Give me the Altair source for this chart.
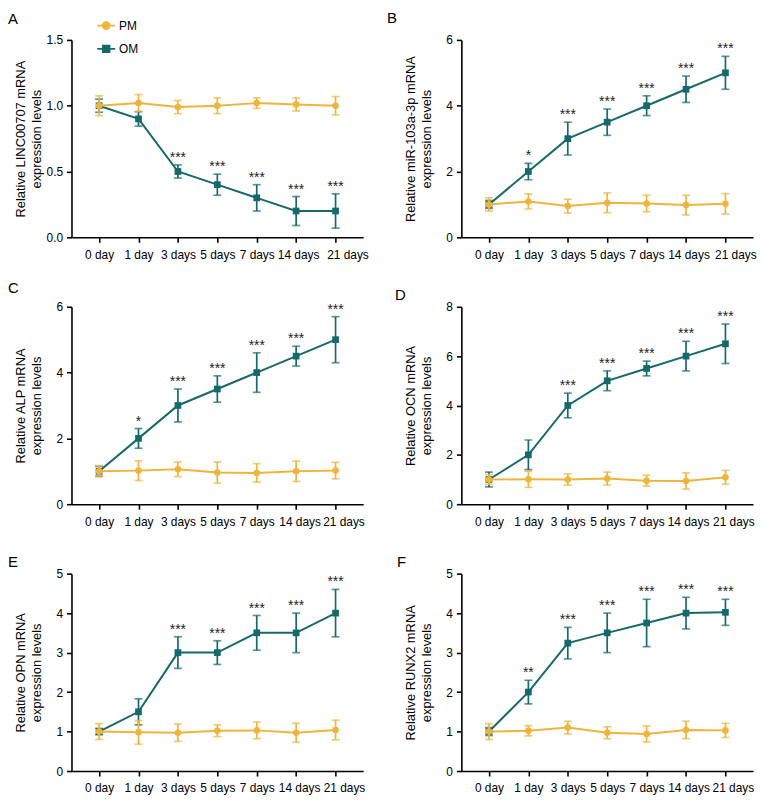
import altair as alt
import pandas as pd

FONT = "Liberation Sans"
ORANGE = "#F0B43C"
TEAL = "#16696A"

days = ["0 day", "1 day", "3 days", "5 days", "7 days", "14 days", "21 days"]

# Panel A - LINC00707
a_pm = [1.00, 1.02, 0.99, 1.00, 1.02, 1.01, 1.00]
a_pm_err = [0.075, 0.065, 0.05, 0.06, 0.04, 0.05, 0.07]
a_om = [1.00, 0.90, 0.50, 0.40, 0.30, 0.20, 0.20]
a_om_err = [0.05, 0.055, 0.05, 0.08, 0.10, 0.11, 0.13]
a_stars = ["", "", "***", "***", "***", "***", "***"]

# Panel B - miR-103a-3p
b_pm = [1.00, 1.09, 0.95, 1.05, 1.03, 0.98, 1.02]
b_pm_err = [0.20, 0.23, 0.21, 0.30, 0.25, 0.30, 0.31]
b_om = [1.00, 2.00, 3.00, 3.50, 4.00, 4.50, 5.00]
b_om_err = [0.12, 0.25, 0.50, 0.40, 0.30, 0.40, 0.50]
b_stars = ["", "*", "***", "***", "***", "***", "***"]

# Panel C - ALP
c_pm = [1.00, 1.02, 1.06, 0.96, 0.95, 1.00, 1.02]
c_pm_err = [0.17, 0.30, 0.22, 0.32, 0.28, 0.31, 0.25]
c_om = [1.00, 2.00, 3.00, 3.50, 4.00, 4.50, 5.00]
c_om_err = [0.15, 0.30, 0.50, 0.40, 0.60, 0.30, 0.70]
c_stars = ["", "*", "***", "***", "***", "***", "***"]

# Panel D - OCN
d_pm = [1.00, 1.01, 1.00, 1.04, 0.95, 0.94, 1.09]
d_pm_err = [0.20, 0.33, 0.23, 0.26, 0.22, 0.33, 0.28]
d_om = [1.00, 2.00, 4.00, 5.00, 5.50, 6.00, 6.50]
d_om_err = [0.30, 0.60, 0.50, 0.40, 0.30, 0.60, 0.80]
d_stars = ["", "", "***", "***", "***", "***", "***"]

# Panel E - OPN
e_pm = [1.00, 0.98, 0.97, 1.02, 1.03, 0.97, 1.04]
e_pm_err = [0.20, 0.30, 0.22, 0.15, 0.21, 0.24, 0.25]
e_om = [1.00, 1.50, 3.00, 3.00, 3.50, 3.50, 4.00]
e_om_err = [0.08, 0.33, 0.40, 0.30, 0.44, 0.50, 0.60]
e_stars = ["", "", "***", "***", "***", "***", "***"]

# Panel F - RUNX2
f_pm = [1.00, 1.02, 1.10, 0.97, 0.94, 1.04, 1.03]
f_pm_err = [0.20, 0.13, 0.16, 0.15, 0.20, 0.22, 0.18]
f_om = [1.00, 2.00, 3.24, 3.50, 3.75, 4.00, 4.02]
f_om_err = [0.10, 0.30, 0.40, 0.50, 0.60, 0.40, 0.33]
f_stars = ["", "**", "***", "***", "***", "***", "***"]

PM_PATH = "M-1,0L1,0M-0.38,0A0.38,0.38,0,1,0,0.38,0A0.38,0.38,0,1,0,-0.38,0Z"
OM_PATH = "M-1,0L1,0M-0.37,-0.37L0.37,-0.37L0.37,0.37L-0.37,0.37Z"

W, H = 294, 199


def panel(letter, ytitle, pm, pm_err, om, om_err, stars, ymax, yvals, yfmt,
          legend_x, legend_y, row_pad, title_dx, title_dy, d14, d21):
    rows = []
    for i, d in enumerate(days):
        rows.append(dict(day=d, group="PM", mean=pm[i], lo=pm[i] - pm_err[i],
                         hi=pm[i] + pm_err[i], star=""))
        rows.append(dict(day=d, group="OM", mean=om[i], lo=om[i] - om_err[i],
                         hi=om[i] + om_err[i], star=stars[i]))
    df = pd.DataFrame(rows)

    label_offset = {"condition": [{"test": "datum.value === '21 days'", "value": d21},
                                  {"test": "datum.value === '14 days'", "value": d14}],
                    "value": 0}
    x_axis = alt.Axis(title=None, labelAngle=0, labelFontSize=12, labelPadding=7,
                      tickSize=5, tickWidth=1.6, domainWidth=1.6, labelOverlap=False,
                      labelFlush=False, domainColor="black", tickColor="black",
                      labelColor="black", labelOffset=label_offset)
    x = alt.X("day:N", sort=days, scale=alt.Scale(type="point", padding=0.7), axis=x_axis)
    y_scale = alt.Scale(domain=[0, ymax], nice=False, zero=True)
    y_axis = alt.Axis(title=ytitle, values=yvals, format=yfmt, tickSize=5, tickWidth=1.6,
                      domainWidth=1.6, labelPadding=4, labelFontSize=12, titleFontSize=13,
                      titleFontWeight="normal", titleColor="black", labelColor="black",
                      domainColor="black", tickColor="black", minExtent=22, maxExtent=22,
                      titlePadding=6, titleLineHeight=16, grid=False)

    def Y(field):
        return alt.Y(field, scale=y_scale, axis=y_axis)

    base = alt.Chart(df)
    layers = []
    for g, color, shape, size in [("OM", TEAL, "square", 46), ("PM", ORANGE, "circle", 44)]:
        b = base.transform_filter(alt.datum.group == g)
        layers.append(b.mark_rule(color=color, strokeWidth=1.7).encode(
            x=x, y=Y("lo:Q"), y2="hi:Q"))
        layers.append(b.mark_tick(color=color, size=8, thickness=1.7).encode(x=x, y=Y("hi:Q")))
        layers.append(b.mark_tick(color=color, size=8, thickness=1.7).encode(x=x, y=Y("lo:Q")))
        layers.append(b.mark_line(color=color, strokeWidth=2).encode(x=x, y=Y("mean:Q")))
        layers.append(b.mark_point(filled=True, shape=shape, size=size, color=color,
                                   opacity=1).encode(x=x, y=Y("mean:Q")))
    layers.append(base.transform_filter(alt.datum.group == "OM").mark_text(
        dy=-3, baseline="alphabetic", fontSize=14, color="#222222").encode(
        x=x, y=Y("hi:Q"), text="star:N"))

    legend = alt.Legend(title=None, orient="none", legendX=legend_x, legendY=legend_y,
                        symbolSize=324, symbolStrokeWidth=1.8, labelFontSize=12,
                        labelOffset=3, rowPadding=row_pad, padding=0, labelColor="black",
                        symbolOpacity=1, direction="vertical")
    gscale_dom = ["PM", "OM"]
    layers.append(base.transform_filter("false").mark_point(filled=True).encode(
        x=x, y=Y("mean:Q"),
        fill=alt.Fill("group:N", scale=alt.Scale(domain=gscale_dom, range=[ORANGE, TEAL]), legend=legend),
        stroke=alt.Stroke("group:N", scale=alt.Scale(domain=gscale_dom, range=[ORANGE, TEAL]), legend=legend),
        shape=alt.Shape("group:N", scale=alt.Scale(domain=gscale_dom, range=[PM_PATH, OM_PATH]), legend=legend),
    ))

    return alt.layer(*layers).properties(
        width=W, height=H,
        title=alt.TitleParams(letter, anchor="start", frame="group", dx=title_dx, dy=title_dy,
                              fontSize=15, fontWeight="normal", baseline="alphabetic",
                              color="black", offset=0),
    )


pA = panel("A", ["Relative LINC00707 mRNA", "expression levels"], a_pm, a_pm_err, a_om, a_om_err,
           a_stars, 1.5, [0, 0.5, 1.0, 1.5], ".1f", 25, -24.4, 5.4, -64, 4.6, 2, 12)
pB = panel("B", ["Relative miR-103a-3p mRNA", "expression levels"], b_pm, b_pm_err, b_om, b_om_err,
           b_stars, 6, [0, 2, 4, 6], "d", 21, -24.4, 3.4, -75, 4.3, 2.5, 10)
pC = panel("C", ["Relative ALP mRNA", "expression levels"], c_pm, c_pm_err, c_om, c_om_err,
           c_stars, 6, [0, 2, 4, 6], "d", 25, -23.4, 3.3, -64, 7.3, 3.5, 8)
pD = panel("D", ["Relative OCN mRNA", "expression levels"], d_pm, d_pm_err, d_om, d_om_err,
           d_stars, 8, [0, 2, 4, 6, 8], "d", 21, -22, 2.7, -67, 14.3, 2, 8)
pE = panel("E", ["Relative OPN mRNA", "expression levels"], e_pm, e_pm_err, e_om, e_om_err,
           e_stars, 5, [0, 1, 2, 3, 4, 5], "d", 25, -21, 2, -64, 14, 3, 8.5)
pF = panel("F", ["Relative RUNX2 mRNA", "expression levels"], f_pm, f_pm_err, f_om, f_om_err,
           f_stars, 5, [0, 1, 2, 3, 4, 5], "d", 21, -22.6, 2.7, -65, 14, 2.5, 7.5)

chart = alt.concat(pA, pB, pC, pD, pE, pF, columns=2,
                   spacing={"row": 70, "column": 99}, bounds="flush").properties(
    padding=0
).configure(font=FONT).configure_view(stroke=None)

chart.save("out.html", embed_options={"renderer": "svg", "actions": False})
